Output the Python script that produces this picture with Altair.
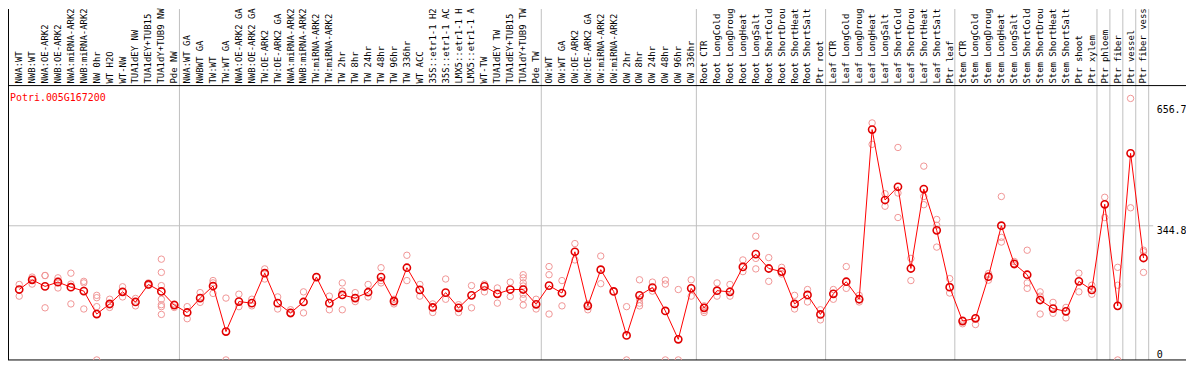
import altair as alt
import pandas as pd

samples = [
    "NWA:WT", "NWB:WT", "NWA:OE-ARK2", "NWB:OE-ARK2", "NWA:miRNA-ARK2", "NWB:miRNA-ARK2",
    "NW 0hr", "WT H2O", "WT-NW", "TUA1dEY NW", "TUA1dEY+TUB15", "TUA1dY+TUB9 NW", "Pde NW",
    "NWA:WT GA", "NWBWT GA", "TW:WT", "TW:WT GA", "NWA:OE-ARK2 GA", "NWB:OE-ARK2 GA",
    "TW:OE-ARK2", "TW:OE-ARK2 GA", "NWA:miRNA-ARK2", "NWB:miRNA-ARK2", "TW:miRNA-ARK2",
    "TW:miRNA-ARK2", "TW 2hr", "TW 8hr", "TW 24hr", "TW 48hr", "TW 96hr", "TW 336hr",
    "WT ACC", "35S::etr1-1 H2", "35S::etr1-1 AC", "LMX5::etr1-1 H", "LMX5::etr1-1 A",
    "WT-TW", "TUA1dEY TW", "TUA1dEY+TUB15", "TUA1dY+TUB9 TW", "Pde TW",
    "OW:WT", "OW:WT GA", "OW:OE-ARK2", "OW:OE-ARK2 GA", "OW:miRNA-ARK2", "OW:miRNA-ARK2",
    "OW 2hr", "OW 8hr", "OW 24hr", "OW 48hr", "OW 96hr", "OW 336hr",
    "Root CTR", "Root LongCold", "Root LongDroug", "Root LongHeat", "Root LongSalt",
    "Root ShortCold", "Root ShortDrou", "Root ShortHeat", "Root ShortSalt", "Ptr root",
    "Leaf CTR", "Leaf LongCold", "Leaf LongDroug", "Leaf LongHeat", "Leaf LongSalt",
    "Leaf ShortCold", "Leaf ShortDrou", "Leaf ShortHeat", "Leaf ShortSalt", "Ptr leaf",
    "Stem CTR", "Stem LongCold", "Stem LongDroug", "Stem LongHeat", "Stem LongSalt",
    "Stem ShortCold", "Stem ShortDrou", "Stem ShortHeat", "Stem ShortSalt", "Ptr shoot",
    "Ptr xylem", "Ptr phloem", "Ptr fiber", "Ptr vessel", "Ptr fiber vess",
]

means = [
    181, 206, 189, 200, 187, 177, 118, 144, 175, 149, 194, 176, 141,
    122, 159, 190, 73, 150, 146, 223, 146, 121, 149, 213, 146, 167, 159, 174, 213,
    151, 237, 180, 135, 173, 134, 166, 189, 170, 181, 181, 143,
    191, 172, 278, 139, 232, 176, 63, 166, 186, 126, 53, 184,
    134, 178, 175, 239, 272, 235, 227, 144, 167, 117,
    170, 201, 156, 592, 411, 445, 235, 439, 333, 187,
    100, 107, 214, 345, 247, 219, 154, 132, 125, 202,
    180, 400, 139, 531, 262,
]

replicates = [
    [194, 164], [213, 195, 206], [217, 217, 134], [211, 185, 204], [223, 195, 144],
    [202, 198, 131], [166, 160, 137, 0], [156, 135, 141], [188, 175, 162], [158, 139],
    [198, 192], [259, 225, 191, 156, 142, 137, 117], [144, 135],
    [137, 106], [173, 148], [204, 198, 171], [159, 0], [169, 137], [156, 139],
    [234, 208], [162, 131], [129, 118], [175, 121], [213], [164, 129],
    [198, 177, 129], [173, 150], [194, 162], [237, 204, 198], [156, 144],
    [269, 204], [194, 164], [144, 122], [208, 156], [142, 122], [191, 134],
    [195, 175], [185, 146], [200, 163], [219, 211, 198, 190, 169, 158, 141], [156, 131],
    [240, 219, 118], [204, 139], [299, 257], [144, 129], [267, 196], [176],
    [137, 0], [206, 156, 146, 139], [200, 177], [205, 195, 0], [181, 0], [206, 164],
    [139, 127, 122], [198, 164], [194, 164], [257, 227], [318, 261, 234],
    [263, 202], [238, 221], [166, 131], [181, 149], [129, 103],
    [181, 156], [240, 184], [166, 149], [609, 554], [427, 395],
    [546, 429, 366], [261, 204], [498, 420, 399], [361, 346, 290], [209, 172],
    [103, 93], [108, 91], [222, 205], [420, 315, 303], [253, 244],
    [282, 198, 184], [175, 164, 118], [148, 120], [135, 108], [223, 175],
    [192, 169], [418, 366], [238, 192, 0], [672, 391], [282, 278, 225],
]

group_ends = [13, 41, 53, 63, 73, 84, 85, 86, 87, 88]
y_ticks = [0, 344.8, 656.7]
ref_line = [344.8]
title_text = "Potri.005G167200"

W, H = 1151, 276
PAD_TOP, PAD_RIGHT = 77, 33
FONT = "DejaVu Sans Mono"

idx = list(range(1, len(samples) + 1))
mean_df = pd.DataFrame({"idx": idx, "sample": samples, "mean": means})
rep_df = pd.DataFrame(
    [{"idx": i, "value": v} for i, reps in zip(idx, replicates) for v in reps]
)
sep_df = pd.DataFrame({"pos": [g + 0.4 for g in group_ends]})
ref_df = pd.DataFrame({"v": ref_line})
one = pd.DataFrame({"k": [0]})

xs = alt.Scale(domain=[0.21, 88.75], nice=False, zero=False)
ys = alt.Scale(domain=[0, 705], nice=False, zero=False)
yaxis = alt.Axis(
    orient="right", values=y_ticks, grid=False, ticks=False, domain=False,
    labelFont=FONT, labelFontSize=10, labelColor="black", labelPadding=3,
    labelExpr="datum.value == 0 ? '0' : format(datum.value, '.1f')",
    labelBaseline={"condition": {"test": "datum.value == 0", "value": "bottom"}, "value": "top"},
    title=None,
)

sep = alt.Chart(sep_df).mark_rule(color="#c0c0c0", strokeWidth=1).encode(
    x=alt.X("pos:Q", scale=xs, axis=None),
    y=alt.value(-PAD_TOP), y2=alt.value(H),
)

hline = alt.Chart(ref_df).mark_rule(color="#c0c0c0", strokeWidth=1).encode(
    y=alt.Y("v:Q", scale=ys, axis=yaxis),
    x=alt.value(0), x2=alt.value(W),
)

frame_mid = alt.Chart(one).mark_rule(color="black", strokeWidth=1).encode(
    x=alt.value(-1), x2=alt.value(W + PAD_RIGHT), y=alt.value(0))
frame_bot = alt.Chart(one).mark_rule(color="black", strokeWidth=1).encode(
    x=alt.value(-1), x2=alt.value(W + PAD_RIGHT), y=alt.value(H))
frame_left = alt.Chart(one).mark_rule(color="black", strokeWidth=1).encode(
    x=alt.value(-0.5), y=alt.value(-PAD_TOP), y2=alt.value(H))

reps = alt.Chart(rep_df).mark_point(
    shape="circle", filled=False, size=42, color="#f09595", strokeWidth=1, opacity=1, clip=True
).encode(
    x=alt.X("idx:Q", scale=xs, axis=None),
    y=alt.Y("value:Q", scale=ys, axis=yaxis),
)

line = alt.Chart(mean_df).mark_line(color="#ff0000", strokeWidth=1).encode(
    x=alt.X("idx:Q", scale=xs, axis=None),
    y=alt.Y("mean:Q", scale=ys, axis=yaxis),
)

mpts = alt.Chart(mean_df).mark_point(
    shape="circle", filled=False, size=52, color="#e00000", strokeWidth=1.6, opacity=1
).encode(
    x=alt.X("idx:Q", scale=xs, axis=None),
    y=alt.Y("mean:Q", scale=ys, axis=yaxis),
)

labels = alt.Chart(mean_df).mark_text(
    angle=270, align="left", baseline="middle", font=FONT, fontSize=9, color="black"
).encode(
    x=alt.X("idx:Q", scale=xs, axis=None),
    y=alt.value(-2),
    text="sample:N",
)

title = alt.Chart(one).mark_text(
    align="left", baseline="middle", font=FONT, fontSize=10, color="#ff0000"
).encode(x=alt.value(1), y=alt.value(12), text=alt.value(title_text))

chart = alt.layer(
    sep, hline, frame_mid, frame_bot, frame_left,
    reps, line, mpts, labels, title,
).properties(
    width=W, height=H,
    autosize=alt.AutoSizeParams(type="none"),
    padding={"left": 1, "top": PAD_TOP, "right": PAD_RIGHT, "bottom": 1},
    background="white",
).configure_view(stroke=None)

chart.save("out.html", embed_options={"renderer": "svg", "actions": False})
